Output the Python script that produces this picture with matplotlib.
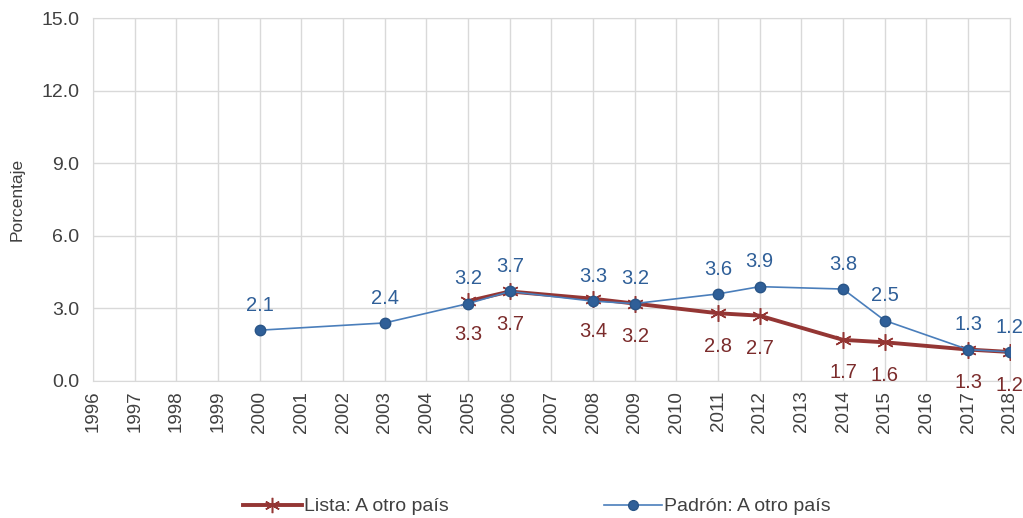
import matplotlib.pyplot as plt
from matplotlib.lines import Line2D

plt.rcParams['font.family'] = ['Liberation Sans', 'DejaVu Sans']

# datos
years = list(range(1996, 2019))
lista_x = [2005, 2006, 2008, 2009, 2011, 2012, 2014, 2015, 2017, 2018]
lista_y = [3.3, 3.7, 3.4, 3.2, 2.8, 2.7, 1.7, 1.6, 1.3, 1.2]
padron_x = [2000, 2003, 2005, 2006, 2008, 2009, 2011, 2012, 2014, 2015, 2017, 2018]
padron_y = [2.1, 2.4, 3.2, 3.7, 3.3, 3.2, 3.6, 3.9, 3.8, 2.5, 1.3, 1.2]
y_ticks = [0, 3, 6, 9, 12, 15]

red = '#943634'
red_txt = '#7b2c2c'
blue = '#4a7ebb'
blue_dark = '#2f5f98'
star = (6, 2, 0)

fig = plt.figure(figsize=(10.23, 5.18), dpi=100)
ax = fig.add_axes([0.091, 0.2645, 0.896, 0.7005])

ax.plot(lista_x, lista_y, color=red, lw=2.8, marker=star, markersize=12,
        markeredgewidth=1.1, zorder=3)
ax.plot(padron_x, padron_y, color=blue, lw=1.2, marker='o', markersize=7.5,
        markerfacecolor=blue_dark, markeredgecolor='#2a5587', zorder=4)

for x, y in zip(padron_x, padron_y):
    ax.annotate(f'{y:.1f}', (x, y), xytext=(0, 11), textcoords='offset points',
                ha='center', va='bottom', fontsize=14.5, color=blue_dark)
for x, y in zip(lista_x, lista_y):
    ax.annotate(f'{y:.1f}', (x, y), xytext=(0, -17), textcoords='offset points',
                ha='center', va='top', fontsize=14.5, color=red_txt, annotation_clip=False)

ax.set_xlim(1996, 2018)
ax.set_ylim(0, 15)
ax.set_xticks(years)
ax.set_xticklabels([str(y) for y in years], rotation=90, fontsize=13.5, color='#404040')
ax.set_yticks(y_ticks)
ax.set_yticklabels([f'{v:.1f}' for v in y_ticks], fontsize=14, color='#404040')
ax.tick_params(axis='x', length=0, pad=7)
ax.tick_params(axis='y', length=0, pad=10)
ax.grid(True, color='#d9d9d9', lw=1)
for s in ax.spines.values():
    s.set_color('#d9d9d9')
ax.set_axisbelow(True)
ax.set_ylabel('Porcentaje', fontsize=12.5, color='#404040', labelpad=12)

handles = [
    Line2D([], [], color=red, lw=2.8, marker=star, markersize=11, markeredgewidth=1.1),
    Line2D([], [], color=blue, lw=1.2, marker='o', markersize=7,
           markerfacecolor=blue_dark, markeredgecolor='#2a5587'),
]
fig.legend(handles, ['Lista: A otro país', 'Padrón: A otro país'], loc='center',
           bbox_to_anchor=(0.525, 0.022), ncol=2, frameon=False, fontsize=14,
           columnspacing=8, handlelength=3, handletextpad=0.1, labelcolor='#404040')

fig.savefig('out.png', dpi=100)
